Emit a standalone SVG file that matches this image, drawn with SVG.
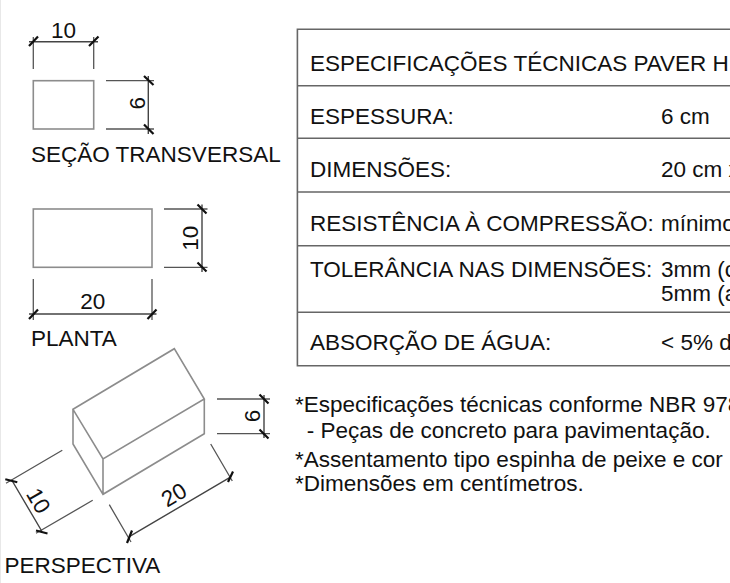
<svg xmlns="http://www.w3.org/2000/svg" width="730" height="583" viewBox="0 0 730 583">
<style>
text{font-family:"Liberation Sans",Arial,sans-serif;font-size:22.500px;fill:#111}
.o{fill:none;stroke:#8c8c8c;stroke-width:1.600}
.d{fill:none;stroke:#444;stroke-width:1.400}
.e{fill:none;stroke:#555;stroke-width:1.300}
.t{fill:none;stroke:#111;stroke-width:2.200}
.g{fill:none;stroke:#666;stroke-width:1.600}
</style>
<rect width="730" height="583" fill="#fff"/>
<rect width="1" height="583" fill="#e8e8e8"/>
<g id="secao">
<rect class="o" x="33.300" y="80.700" width="60.400" height="48.300"/>
<path class="e" d="M33.300 69V37M93.700 69V37M106 80.700H154M106 129H154"/>
<path class="d" d="M29 41.700H98M148.300 76V134"/>
<path class="t" d="M29 46L38 36.500M89 46L98.500 36.500M144 76L153.500 85M144 124.500L153.500 134"/>
<text x="63.500" y="37.500" text-anchor="middle">10</text>
<text transform="translate(145 103.300) rotate(-90)" text-anchor="middle">6</text>
<text x="31" y="161.700">SEÇÃO TRANSVERSAL</text>
</g>
<g id="planta">
<rect class="o" x="33.300" y="209" width="118.700" height="58.300"/>
<path class="e" d="M164 209H207.500M164 267.300H207.500M33.300 279V320M152 279V320"/>
<path class="d" d="M202 204.500V272M29 314H156.500"/>
<path class="t" d="M197.500 204.500L206.500 213.500M197.500 262.500L206.500 271.500M29 319L38 309.500M147.500 319L156.500 309.500"/>
<text transform="translate(198 238.300) rotate(-90)" text-anchor="middle">10</text>
<text x="92.700" y="308.700" text-anchor="middle">20</text>
<text x="31" y="346">PLANTA</text>
</g>
<g id="perspectiva">
<path class="o" d="M73 409.300L174.300 348.700L204.300 399L103 459ZM73 409.300V444L103 494.300L204.300 433.700V399M103 459V494.300"/>
<path class="e" d="M217 399H270M217 433.700H270M210.700 444L232.300 481M109.300 504.700L131 542M62.300 450.300L6 483.300M92.700 500.300L36 533.300"/>
<path class="d" d="M264 395V438M129.300 536.700L230 477.300M11.700 480L41.700 531"/>
<path class="t" d="M259.500 394.500L268.500 403.500M259.500 429.500L268.500 438.500M127 543L132 530.500M228 482L233 471.500M5.300 479.300L17.300 482.300M36 530.500L47.500 533.500"/>
<text transform="translate(260 416) rotate(-90)" text-anchor="middle">6</text>
<text transform="translate(177.800 501.500) rotate(-30)" text-anchor="middle">20</text>
<text transform="translate(31.800 504.500) rotate(60)" text-anchor="middle">10</text>
<text x="4.500" y="573.300">PERSPECTIVA</text>
</g>
<g id="tabela">
<path class="g" d="M730 29.300H297.400V365.700H730M297.400 85.700H730M297.400 138.300H730M297.400 192H730M297.400 245.700H730M297.400 312.300H730"/>
<text x="310" y="70.700">ESPECIFICAÇÕES TÉCNICAS PAVER H</text>
<text x="310" y="124">ESPESSURA:</text>
<text x="661" y="124">6 cm</text>
<text x="310" y="176.700">DIMENSÕES:</text>
<text x="661" y="176.700">20 cm x</text>
<text x="310" y="230.700">RESISTÊNCIA À COMPRESSÃO:</text>
<text x="661" y="230.700">mínimo</text>
<text x="310" y="276.700">TOLERÂNCIA NAS DIMENSÕES:</text>
<text x="661" y="276.700">3mm (c</text>
<text x="661" y="301">5mm (a</text>
<text x="310" y="350">ABSORÇÃO DE ÁGUA:</text>
<text x="661" y="350">&lt; 5% d</text>
</g>
<g id="notas">
<text x="295" y="412">*Especificações técnicas conforme NBR 978</text>
<text x="306.700" y="437.700">- Peças de concreto para pavimentação.</text>
<text x="295" y="466.700">*Assentamento tipo espinha de peixe e cor</text>
<text x="295" y="490.700">*Dimensões em centímetros.</text>
</g>
</svg>
